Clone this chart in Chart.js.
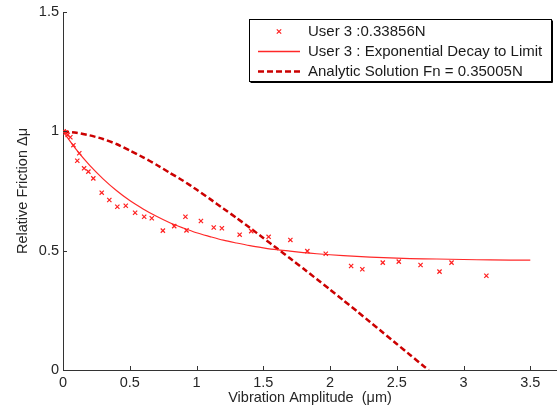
<!DOCTYPE html>
<html>
<head>
<meta charset="utf-8">
<script src="https://cdn.jsdelivr.net/npm/chart.js@4/dist/chart.umd.min.js"></script>
<style>
  html, body { margin: 0; padding: 0; background: #fff; overflow: hidden; }
  #wrap { width: 557px; height: 412px; position: relative; }
</style>
</head>
<body>
<div id="wrap"><canvas id="c" width="557" height="412"></canvas></div>
<script>
// Measured friction reduction, user 3
const user3X = [0.005, 0.02, 0.035, 0.055, 0.078, 0.107, 0.122, 0.158, 0.19, 0.227,
                0.29, 0.347, 0.407, 0.47, 0.54, 0.608, 0.665, 0.748, 0.833, 0.917,
                0.925, 1.033, 1.129, 1.19, 1.323, 1.41, 1.54, 1.703, 1.83, 1.968,
                2.158, 2.242, 2.395, 2.515, 2.678, 2.82, 2.91, 3.171];
const user3Y = [1.0, 0.995, 0.985, 0.975, 0.942, 0.877, 0.908, 0.845, 0.831, 0.803,
                0.743, 0.712, 0.684, 0.688, 0.659, 0.642, 0.636, 0.584, 0.603, 0.642,
                0.585, 0.624, 0.597, 0.594, 0.567, 0.582, 0.558, 0.545, 0.498, 0.487,
                0.436, 0.422, 0.45, 0.454, 0.44, 0.412, 0.45, 0.395];

// Exponential decay to limit, fitted curve
const fitX = [0, 0.1, 0.2, 0.3, 0.4, 0.5, 0.6, 0.7, 0.8, 0.9, 1.0, 1.1, 1.2, 1.3, 1.4,
              1.5, 1.6, 1.7, 1.8, 1.9, 2.0, 2.2, 2.4, 2.6, 2.8, 3.0, 3.2, 3.5];
const fitY = [1.0, 0.923, 0.857, 0.801, 0.752, 0.71, 0.675, 0.644, 0.617, 0.595, 0.575,
              0.559, 0.544, 0.532, 0.521, 0.512, 0.504, 0.498, 0.492, 0.487, 0.483,
              0.476, 0.471, 0.467, 0.465, 0.463, 0.461, 0.46];

// Analytic solution, Fn = 0.35005 N
const analyticX = [0, 0.1, 0.2, 0.3, 0.4, 0.5, 0.6, 0.7, 0.8, 0.9, 1.0, 1.1, 1.2, 1.3,
                   1.4, 1.5, 1.6, 1.7, 1.8, 1.9, 2.0, 2.1, 2.2, 2.3, 2.4, 2.5, 2.6,
                   2.7, 2.74];
const analyticY = [1.0, 0.994, 0.983, 0.968, 0.947, 0.92, 0.891, 0.86, 0.826, 0.793,
                   0.756, 0.717, 0.677, 0.637, 0.596, 0.553, 0.511, 0.468, 0.425,
                   0.381, 0.337, 0.292, 0.247, 0.201, 0.155, 0.109, 0.063, 0.017, 0.0];

const seriesLabels = ['User 3 :0.33856N', 'User 3 : Exponential Decay to Limit',
                      'Analytic Solution Fn = 0.35005N'];
const xTitle = 'Vibration Amplitude  (\u03BCm)';
const yTitle = 'Relative Friction \u0394\u03BC';

const toPoints = (xs, ys) => xs.map((x, i) => ({ x: x, y: ys[i] }));

const FONT = '"Liberation Sans", Arial, sans-serif';
const TEXT = '#262626';
const AXIS = '#333333';
const MARKER_RED = '#ff2020';
const FIT_RED = '#ff2828';
const ANALYTIC_RED = '#cc0000';

// MATLAB-style inward tick marks on the left and bottom axes
const inwardTicks = {
  id: 'inwardTicks',
  afterDraw(chart) {
    const ctx = chart.ctx;
    const xs = chart.scales.x, ys = chart.scales.y;
    const len = 4;
    ctx.save();
    ctx.strokeStyle = AXIS;
    ctx.lineWidth = 1;
    ctx.beginPath();
    xs.ticks.forEach(t => {
      const px = Math.round(xs.getPixelForValue(t.value)) + 0.5;
      ctx.moveTo(px, ys.bottom);
      ctx.lineTo(px, ys.bottom - len);
    });
    ys.ticks.forEach(t => {
      const py = Math.round(ys.getPixelForValue(t.value)) + 0.5;
      ctx.moveTo(xs.left, py);
      ctx.lineTo(xs.left + len, py);
    });
    ctx.stroke();
    ctx.restore();
  }
};

// Boxed legend in the upper right corner
const boxedLegend = {
  id: 'boxedLegend',
  afterDraw(chart) {
    const ctx = chart.ctx;
    const box = { left: 249.5, top: 19.5, right: 551.5, bottom: 81.5 };
    const rowY = [31.5, 51.5, 71.5];
    const sampleL = 258, sampleR = 300, textX = 308;
    ctx.save();
    ctx.fillStyle = '#ffffff';
    ctx.fillRect(box.left, box.top, box.right - box.left, box.bottom - box.top);
    ctx.strokeStyle = '#000000';
    ctx.lineWidth = 1;
    ctx.strokeRect(box.left, box.top, box.right - box.left, box.bottom - box.top);
    ctx.beginPath();
    ctx.moveTo(box.right + 1, box.top + 1);
    ctx.lineTo(box.right + 1, box.bottom + 1);
    ctx.lineTo(box.left + 1, box.bottom + 1);
    ctx.stroke();

    const styles = [
      { kind: 'marker', color: MARKER_RED },
      { kind: 'line', color: FIT_RED, width: 1.3, dash: [] },
      { kind: 'line', color: ANALYTIC_RED, width: 2.5, dash: [6, 3] }
    ];
    chart.data.datasets.forEach((ds, i) => {
      const y = rowY[i];
      const st = styles[i];
      ctx.save();
      ctx.strokeStyle = st.color;
      if (st.kind === 'marker') {
        const cx = (sampleL + sampleR) / 2, r = 2.2;
        ctx.lineWidth = 1.2;
        ctx.beginPath();
        ctx.moveTo(cx - r, y - r); ctx.lineTo(cx + r, y + r);
        ctx.moveTo(cx + r, y - r); ctx.lineTo(cx - r, y + r);
        ctx.stroke();
      } else {
        ctx.lineWidth = st.width;
        ctx.setLineDash(st.dash);
        ctx.beginPath();
        ctx.moveTo(sampleL, y);
        ctx.lineTo(sampleR, y);
        ctx.stroke();
      }
      ctx.restore();
      ctx.fillStyle = '#1a1a1a';
      ctx.font = '15px ' + FONT;
      ctx.textAlign = 'left';
      ctx.textBaseline = 'middle';
      ctx.fillText(ds.label, textX, y + 0.5);
    });
    ctx.restore();
  }
};

new Chart(document.getElementById('c'), {
  type: 'scatter',
  data: {
    datasets: [
      {
        label: seriesLabels[0],
        data: toPoints(user3X, user3Y),
        showLine: false,
        pointStyle: 'crossRot',
        pointRadius: 3,
        pointBorderWidth: 1.2,
        borderColor: MARKER_RED,
        backgroundColor: MARKER_RED
      },
      {
        label: seriesLabels[1],
        data: toPoints(fitX, fitY),
        showLine: true,
        pointRadius: 0,
        borderColor: FIT_RED,
        borderWidth: 1.2,
        tension: 0.3
      },
      {
        label: seriesLabels[2],
        data: toPoints(analyticX, analyticY),
        showLine: true,
        pointRadius: 0,
        borderColor: ANALYTIC_RED,
        borderWidth: 2.5,
        borderDash: [6, 3],
        tension: 0.2
      }
    ]
  },
  options: {
    responsive: false,
    animation: false,
    devicePixelRatio: 1,
    layout: { autoPadding: false, padding: { top: 12, right: 0, bottom: 0, left: 0 } },
    plugins: {
      legend: { display: false },
      tooltip: { enabled: false }
    },
    scales: {
      x: {
        type: 'linear',
        min: 0,
        max: 3.7,
        afterFit(s) { s.height = 42; s.paddingRight = 0; s.paddingLeft = 0; },
        ticks: {
          stepSize: 0.5,
          includeBounds: false,
          padding: 4,
          color: TEXT,
          font: { family: FONT, size: 14.5 },
          maxRotation: 0,
          callback: v => String(v)
        },
        grid: { display: false, drawTicks: false },
        border: { display: true, color: AXIS, width: 1 },
        title: {
          display: true,
          text: xTitle,
          color: TEXT,
          font: { family: FONT, size: 14.5 },
          padding: { top: 0, bottom: 5 }
        }
      },
      y: {
        type: 'linear',
        min: 0,
        max: 1.5,
        afterFit(s) { s.width = 63; s.paddingTop = 0; s.paddingBottom = 0; },
        ticks: {
          stepSize: 0.5,
          padding: 4,
          color: TEXT,
          font: { family: FONT, size: 14.5 },
          callback: v => String(v)
        },
        grid: { display: false, drawTicks: false },
        border: { display: true, color: AXIS, width: 1 },
        title: {
          display: true,
          text: yTitle,
          color: TEXT,
          font: { family: FONT, size: 14.5 },
          padding: { top: 14, bottom: 0 }
        }
      }
    }
  },
  plugins: [inwardTicks, boxedLegend]
});
</script>
</body>
</html>
